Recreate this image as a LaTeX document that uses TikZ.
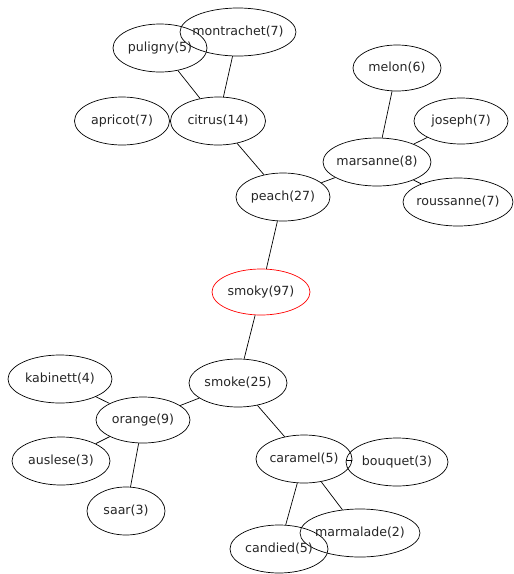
\documentclass[tikz,border=0pt]{standalone}
\usepackage{fontspec}
\setmainfont{DejaVu Sans}
\usetikzlibrary{shapes.geometric}
\newcommand{\wlbl}[1]{\makebox[0pt]{#1}}
\tikzset{
  term/.style={ellipse, draw=black, line width=0.7pt, inner sep=0pt, font=\fontsize{12.6}{13}\selectfont, text=black!85},
  root/.style={term, draw=red},
  link/.style={draw=black, line width=0.7pt}
}
\begin{document}
\begin{tikzpicture}[x=1pt,y=-1pt]
\useasboundingbox[fill=white] (0,0) rectangle (514,574);
% nodes
\node[term, minimum width=94pt, minimum height=48pt] (puligny) at (160,48) {\wlbl{puligny(5)}};
\node[term, minimum width=116pt, minimum height=48pt] (montrachet) at (238,32) {\wlbl{montrachet(7)}};
\node[term, minimum width=95pt, minimum height=48pt] (apricot) at (122,121) {\wlbl{apricot(7)}};
\node[term, minimum width=95pt, minimum height=48pt] (citrus) at (218,121) {\wlbl{citrus(14)}};
\node[term, minimum width=88pt, minimum height=46pt] (melon) at (397,68) {\wlbl{melon(6)}};
\node[term, minimum width=94pt, minimum height=46pt] (joseph) at (461,121) {\wlbl{joseph(7)}};
\node[term, minimum width=108pt, minimum height=48pt] (marsanne) at (377,162) {\wlbl{marsanne(8)}};
\node[term, minimum width=110pt, minimum height=48pt] (roussanne) at (458,202) {\wlbl{roussanne(7)}};
\node[term, minimum width=94pt, minimum height=48pt] (peach) at (283,197) {\wlbl{peach(27)}};
\node[root, minimum width=98pt, minimum height=46pt] (smoky) at (261,292) {\wlbl{smoky(97)}};
\node[term, minimum width=98pt, minimum height=48pt] (smoke) at (238,383) {\wlbl{smoke(25)}};
\node[term, minimum width=104pt, minimum height=48pt] (kabinett) at (60,379) {\wlbl{kabinett(4)}};
\node[term, minimum width=94pt, minimum height=46pt] (orange) at (143,420) {\wlbl{orange(9)}};
\node[term, minimum width=98pt, minimum height=48pt] (auslese) at (61,461) {\wlbl{auslese(3)}};
\node[term, minimum width=78pt, minimum height=48pt] (saar) at (126,511) {\wlbl{saar(3)}};
\node[term, minimum width=96pt, minimum height=48pt] (caramel) at (304,459) {\wlbl{caramel(5)}};
\node[term, minimum width=102pt, minimum height=48pt] (bouquet) at (397,462) {\wlbl{bouquet(3)}};
\node[term, minimum width=120pt, minimum height=48pt] (marmalade) at (360,533) {\wlbl{marmalade(2)}};
\node[term, minimum width=98pt, minimum height=48pt] (candied) at (279,549) {\wlbl{candied(5)}};
% connectors
\draw[link] (montrachet) -- (citrus);
\draw[link] (puligny) -- (citrus);
\draw[link] (apricot) -- (citrus);
\draw[link] (citrus) -- (peach);
\draw[link] (peach) -- (marsanne);
\draw[link] (marsanne) -- (melon);
\draw[link] (marsanne) -- (joseph);
\draw[link] (marsanne) -- (roussanne);
\draw[link] (peach) -- (smoky);
\draw[link] (smoky) -- (smoke);
\draw[link] (smoke) -- (orange);
\draw[link] (orange) -- (kabinett);
\draw[link] (orange) -- (auslese);
\draw[link] (orange) -- (saar);
\draw[link] (smoke) -- (caramel);
\draw[link] (caramel) -- (bouquet);
\draw[link] (caramel) -- (candied);
\draw[link] (caramel) -- (marmalade);
\end{tikzpicture}
\end{document}
